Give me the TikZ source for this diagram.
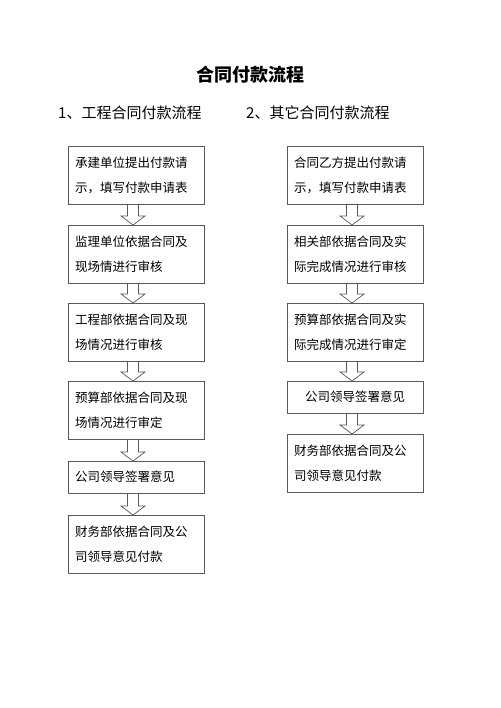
\documentclass[tikz,border=0pt]{standalone}
\usepackage{fontspec}
\newfontfamily\cjk{Noto Sans CJK SC}
\usetikzlibrary{positioning,calc}

\tikzset{
    flowbox/.style={draw=black!65, line width=0.7pt, text width=122pt, align=left,
        inner sep=7pt, outer sep=0pt, font=\cjk\fontsize{12.5}{25}\selectfont},
    tallbox/.style={flowbox, minimum height=58pt},
    flatbox/.style={flowbox, minimum height=32pt},
    hollowarrow/.style={draw=black!65, line width=0.7pt},
    heading/.style={font=\cjk\fontsize{15}{18}\selectfont, anchor=west, inner sep=0pt},
}

\begin{document}
\begin{tikzpicture}[x=1pt, y=-1pt, node distance=20pt]
    \useasboundingbox (0,0) rectangle (500,708);
    \node [font=\cjk\bfseries\fontsize{18}{20}\selectfont] (title) at (250,75) {合同付款流程};
    \node [heading] (headA) at (58,113) {1、工程合同付款流程};
    \node [heading] (headB) at (246,113) {2、其它合同付款流程};

    % 工程合同
    \node [tallbox] (a1) at (136,175) {承建单位提出付款请\\示，填写付款申请表};
    \node [tallbox, below=21pt of a1] (a2) {监理单位依据合同及\\现场情进行审核};
    \node [tallbox, below=of a2] (a3) {工程部依据合同及现\\场情况进行审核};
    \node [tallbox, below=of a3] (a4) {预算部依据合同及现\\场情况进行审定};
    \node [flatbox, below=22pt of a4] (a5) {公司领导签署意见};
    \node [tallbox, below=22pt of a5] (a6) {财务部依据合同及公\\司领导意见付款};

    % 其它合同
    \node [tallbox] (b1) at (355,175) {合同乙方提出付款请\\示，填写付款申请表};
    \node [tallbox, below=21pt of b1] (b2) {相关部依据合同及实\\际完成情况进行审核};
    \node [tallbox, below=of b2] (b3) {预算部依据合同及实\\际完成情况进行审定};
    \node [flatbox, align=center, below=of b3] (b4) {公司领导签署意见};
    \node [tallbox, below=21pt of b4] (b5) {财务部依据合同及公\\司领导意见付款};

    \foreach \u/\v in {a1/a2,a2/a3,a3/a4,a4/a5,a5/a6,b1/b2,b2/b3,b3/b4,b4/b5} {
        \coordinate (top) at ($(\u.south)+(-3,0)$);
        \coordinate (tip) at ($(\v.north)+(-3,0)$);
        \draw [hollowarrow] ($(top)+(-5.5,0)$) |- ($(tip)+(-12,-9)$) -- (tip)
            -- ($(tip)+(12,-9)$) -| ($(top)+(5.5,0)$);
    }
\end{tikzpicture}
\end{document}
